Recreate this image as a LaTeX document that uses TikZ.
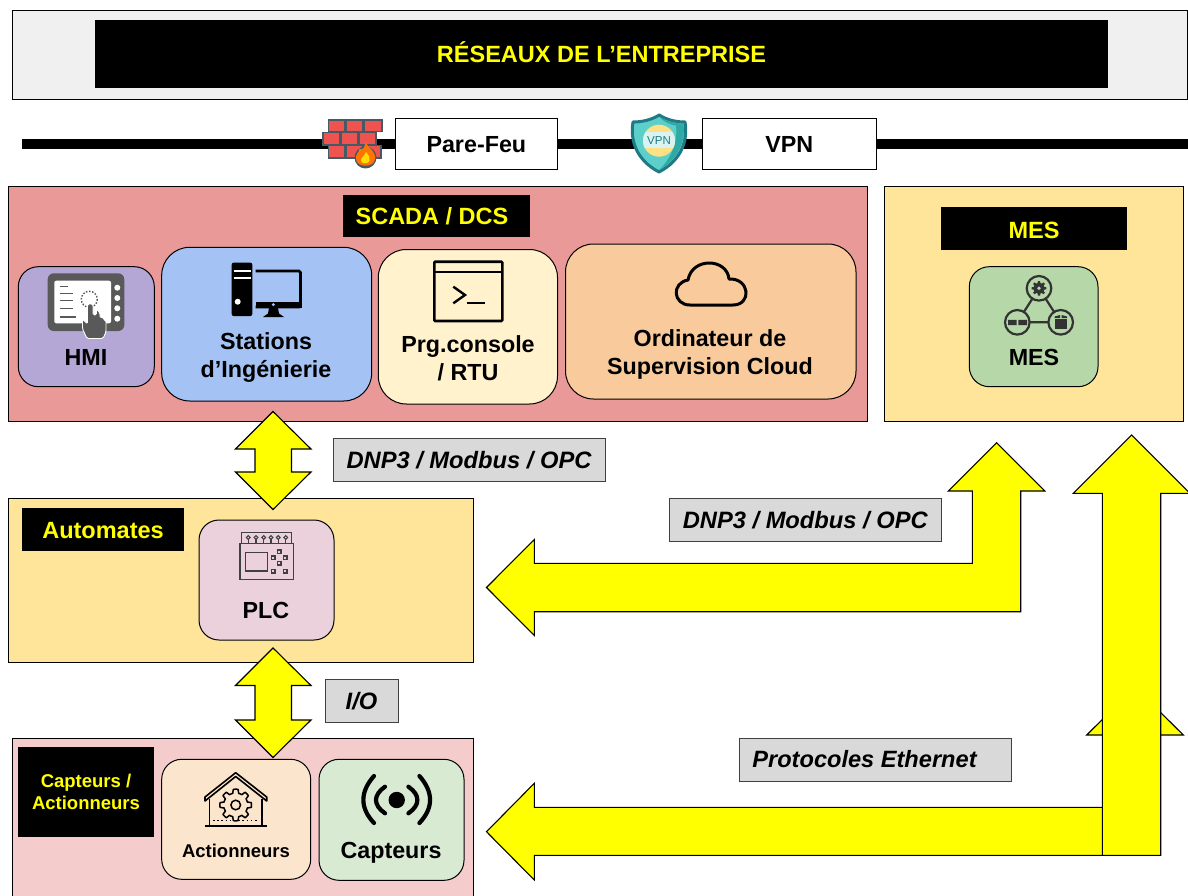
\documentclass[tikz,border=0pt]{standalone}
\usepackage{fontspec}
\setmainfont{Liberation Sans}
\definecolor{framegrey}{HTML}{F0F0F0}
\definecolor{scadared}{HTML}{EA9999}
\definecolor{mesyellow}{HTML}{FFE599}
\definecolor{sensepink}{HTML}{F4CCCC}
\definecolor{hmipurple}{HTML}{B4A7D6}
\definecolor{stblue}{HTML}{A4C2F4}
\definecolor{prgcream}{HTML}{FFF2CC}
\definecolor{cloudorange}{HTML}{F9CB9C}
\definecolor{mesgreen}{HTML}{B6D7A8}
\definecolor{plcpink}{HTML}{EAD1DC}
\definecolor{actpeach}{HTML}{FCE5CD}
\definecolor{capgreen}{HTML}{D9EAD3}
\definecolor{taggrey}{HTML}{D9D9D9}
\definecolor{arrowyellow}{HTML}{FFFF00}
\definecolor{icongrey}{HTML}{595959}
\definecolor{icondark}{HTML}{333333}
\definecolor{brickred}{HTML}{EF5350}
\definecolor{brickedge}{HTML}{455A64}
\definecolor{shieldedge}{HTML}{1F7A85}
\definecolor{shieldfill}{HTML}{5CCFCB}
\definecolor{shielddark}{HTML}{2FA9A6}
\definecolor{shieldband}{HTML}{FFE082}
\definecolor{shieldcore}{HTML}{D8F3F1}
\tikzset{
  boxbase/.style={draw=black,line width=1pt,inner sep=0pt,outer sep=0pt,align=center},
  zone/.style={boxbase,rectangle},
  tile/.style={boxbase,rounded corners=#1},
  tile/.default=20pt,
  blacklabel/.style={fill=black,inner sep=0pt,outer sep=0pt,align=center,text=arrowyellow,font=\bfseries\fontsize{23.5}{28}\selectfont},
  plainbox/.style={boxbase,fill=white,font=\bfseries\fontsize{23.3}{28}\selectfont},
  tag/.style={boxbase,draw=black!75,fill=taggrey,font=\bfseries\itshape\fontsize{23.7}{28}\selectfont},
  lbl/.style={inner sep=0pt,align=center,text=black,font=\bfseries\fontsize{23.3}{28}\selectfont},
  blockarrow/.style={draw=black,fill=arrowyellow,line width=1.1pt,line join=miter},
}
\newcommand{\bx}[7]{\node[#2,minimum width={(#5-#3)*1pt},minimum height={(#6-#4)*1pt}] (#1) at ({(#3+#5)/2},{(#4+#6)/2}) {#7};}
\newcommand{\capc}[2][9pt]{\raisebox{-#1}[0pt][0pt]{#2}}
\newcommand{\gearplot}[6]{\draw[#6] plot[domain=0:360,samples=129,variable=\t] ({#1+(#3+#4*(max(-.5,min(.5,2*cos(#5*\t)))+.5))*cos(\t)},{#2+(#3+#4*(max(-.5,min(.5,2*cos(#5*\t)))+.5))*sin(\t)}) -- cycle;}
\begin{document}
\begin{tikzpicture}[x=1pt,y=-1pt]
\clip (0,0) rectangle (1188,896);
\fill[white] (0,0) rectangle (1188,896);

% Enterprise band
\bx{top}{zone,fill=framegrey}{12.5}{11}{1187.5}{100}{}
\bx{title}{blacklabel}{95}{20}{1108}{88}{\capc{RÉSEAUX DE L’ENTREPRISE}}

% Backbone
\coordinate (lineL) at (22,144.3);
\coordinate (lineR) at (1188,144.3);
\draw[line width=10pt,black] (lineL) -- (lineR);
\bx{fw}{plainbox}{395.7}{118.3}{557}{169.3}{\capc{Pare-Feu}}
\bx{vpn}{plainbox}{702.5}{118.3}{876}{169.3}{\capc{VPN}}

% Firewall icon
\begin{scope}[draw=brickedge,fill=brickred,line width=1.6pt]
\foreach \a/\b/\c/\d in {328.3/120/345/131.7,346/120/362.3/131.7,364/120/381.7/131.7,
  322.7/132.5/340/145,341/132.5/357.3/145,359/132.5/375.7/145,
  328.3/145.7/345/158.3,346/145.7/362.3/158.3,364/145.7/381/158.3}
  \filldraw (\a,\b) rectangle (\c,\d);
\end{scope}
\fill[brickedge] (365.5,157.5) circle[radius=11];
\fill[orange!90!red] (365.5,142.5) .. controls (369,149) and (376,151) .. (375,159) .. controls (374,168) and (357,168) .. (356,159) .. controls (355.5,154) and (359,153) .. (359.5,148.5) .. controls (362,150) and (364,150) .. (365.5,142.5) -- cycle;
\fill[yellow!80!orange] (366,152) .. controls (369,156) and (371,158) .. (369.5,161) .. controls (368,164) and (362,164) .. (361,161) .. controls (360.5,158) and (364,157) .. (366,152) -- cycle;

% VPN shield
\filldraw[draw=shieldedge,fill=shieldfill,line width=3pt,line join=round] (659.3,115) .. controls (651,120) and (642,122) .. (633,122) .. controls (630,140) and (636,160) .. (659,172) .. controls (682,160) and (688,140) .. (685,122) .. controls (676,122) and (667,120) .. (659.3,115) -- cycle;
\fill[shielddark] (659.3,116.8) .. controls (667,121.5) and (675,123.5) .. (683.4,123.5) .. controls (685.5,140) and (680,158) .. (659,170.2) .. controls (672,158) and (678,140) .. (676,125.5) .. controls (670,125) and (664,122) .. (659.3,116.8) -- cycle;
\fill[shieldband] (659,140.7) circle[radius=16];
\begin{scope}
\clip (659,140.7) circle[radius=16];
\fill[shieldcore] (640,132.5) rectangle (678,148.5);
\end{scope}
\node[inner sep=0pt,text=shieldedge,font=\fontsize{11.5}{12}\selectfont] (vpnmark) at (659,140.7) {VPN};

% SCADA zone
\bx{scada}{zone,fill=scadared}{8.5}{187}{867}{421}{}
\bx{scadat}{blacklabel}{343}{195}{530}{237}{}
\node[blacklabel,fill=none] (scadal) at (432,216) {\capc{SCADA / DCS}};
\bx{hmi}{tile=20pt,fill=hmipurple}{18.3}{266.7}{154.3}{386.7}{}
\bx{station}{tile=28pt,fill=stblue}{161.7}{247.3}{371.7}{401}{}
\bx{prg}{tile=28pt,fill=prgcream}{378.3}{249.5}{557.5}{404}{}
\bx{ordi}{tile=28pt,fill=cloudorange}{565.5}{244}{856}{399}{}
\node[lbl] (hmil) at (86,357) {HMI};
\node[lbl] (stationl) at (266,358) {Stations\\d’Ingénierie};
\node[lbl] (prgl) at (468,358) {Prg.console\\/ RTU};
\node[lbl] (ordil) at (710,354) {Ordinateur de\\Supervision Cloud};

% HMI icon
\fill[icongrey,rounded corners=6pt] (47.7,273.3) rectangle (124.3,331);
\fill[white,rounded corners=2pt] (54.3,280.7) rectangle (111,323.3);
\foreach \yy in {287.7,298,308.3,318.7} \fill[white] (117.3,\yy) circle[radius=3];
\draw[icongrey,line width=1pt] (59.5,286.7) -- (68,286.7) (59.5,293.3) -- (73,293.3) (59.5,300) -- (73,300);
\draw[icongrey,line width=1.6pt] (59.5,308.3) -- (73,308.3) (59.5,316.7) -- (76,316.7);
\draw[icongrey,line width=1.4pt,dash pattern=on 1.5pt off 1.6pt] (89.3,299.3) circle[radius=8];
\filldraw[draw=white,fill=icongrey,line width=.9pt,rounded corners=1.5pt] (87.5,304) -- (93,304) -- (93,315) -- (96.5,315) -- (96.5,309) -- (100,313) -- (100,318) -- (103.5,317) -- (103.5,320) -- (106,320) -- (106,332) -- (103,338.5) -- (87,338.5) -- (82.5,329) -- (82.5,319) -- (87.5,324) -- cycle;

% Station icon
\fill[black,rounded corners=2pt] (231.7,262.7) rectangle (252.3,316);
\draw[white,line width=2pt] (233.5,271) -- (250.5,271) (233.5,278.3) -- (250.5,278.3);
\fill[white] (237.7,301.7) circle[radius=3];
\draw[black,line width=2.6pt,rounded corners=1.5pt] (255.7,271) -- (300.5,271) -- (300.5,307) -- (255.7,307);
\fill[black] (255.7,302) rectangle (301.7,308.3);
\fill[stblue] (273.3,304.6) circle[radius=1.6];
\fill[black] (269,308) -- (278,308) -- (279,313.5) -- (284,317) -- (263,317) -- (268,313.5) -- cycle;

% Console icon
\draw[black,line width=2.6pt,rounded corners=1pt] (434.3,261.7) rectangle (502.3,321);
\draw[black,line width=2.2pt] (434.3,271.7) -- (502.3,271.7);
\draw[black,line width=2.4pt] (453.3,286.7) -- (465,295) -- (453.3,303.3);
\draw[black,line width=2.2pt] (466.7,302.7) -- (485,302.7);

% Cloud icon
\draw[black,line width=3pt,line join=round] (690,305) .. controls (673,305) and (671,283) .. (688,280) .. controls (692,257) and (727,258) .. (729,279) .. controls (750,278) and (752,305) .. (733,305) -- cycle;

% MES zone
\bx{meszone}{zone,fill=mesyellow}{884}{187}{1183}{421}{}
\bx{mest}{blacklabel}{941}{207}{1127}{250}{\capc[10pt]{MES}}
\bx{mes}{tile=20pt,fill=mesgreen}{969.3}{266.7}{1098}{386.7}{}
\node[lbl] (mesl) at (1034,357) {MES};
\begin{scope}[draw=icondark,line width=2.2pt]
\coordinate (mesA) at (1039,288.3);
\coordinate (mesB) at (1017.3,322.3);
\coordinate (mesC) at (1060.7,322.3);
\draw (mesA) -- (mesB) -- (mesC) -- cycle;
\filldraw[fill=mesgreen] (mesA) circle[radius=12.3];
\filldraw[fill=mesgreen] (mesB) circle[radius=12.3];
\filldraw[fill=mesgreen] (mesC) circle[radius=12.3];
\end{scope}
\gearplot{1039}{288.3}{5.4}{1.9}{8}{fill=icondark,draw=none}
\fill[mesgreen] (mesA) circle[radius=1.9];
\fill[icondark] (1008,319.8) rectangle (1016.7,325) (1018.3,319.8) rectangle (1027,325);
\fill[icondark] (1054.5,319) rectangle (1067,329);
\fill[icondark] (1054.5,316.5) -- (1060,315) -- (1060,318) -- (1054.5,318) -- cycle (1061.5,315) -- (1067,316.5) -- (1067,318) -- (1061.5,318) -- cycle;

% Automates zone
\bx{auto}{zone,fill=mesyellow}{8.5}{498}{473.5}{662.5}{}
\bx{autot}{blacklabel}{22}{508}{184}{551}{\capc{Automates}}
\bx{plc}{tile=20pt,fill=plcpink}{199}{520}{334}{640}{}
\node[lbl] (plcl) at (266,610) {PLC};
\begin{scope}[draw=black!75,line width=1.4pt]
\draw (241.7,543.3) -- (241.7,532.3) -- (291.7,532.3) -- (291.7,543.3);
\draw (240,543.3) rectangle (293.3,579.3);
\draw (245.7,552.3) rectangle (267.3,571);
\foreach \xx in {248.3,256,263.7,271,278.3,285.7} {
  \draw[line width=1.1pt] (\xx,537.5) circle[radius=1.9];
  \draw[line width=1.1pt] (\xx,539.4) -- (\xx,542.5);
}
\foreach \xx/\yy in {279.3/551.7,273.3/557.7,285/557.7,279.3/563.3,273.3/571,285/571}
  \draw (\xx-1.8,\yy-1.8) rectangle (\xx+1.8,\yy+1.8);
\end{scope}

% Field zone
\bx{field}{zone,fill=sensepink}{12.5}{738}{473}{910}{}
\bx{fieldt}{blacklabel,font=\bfseries\fontsize{18.5}{22.7}\selectfont}{18}{747.3}{154}{836.7}{Capteurs /\\Actionneurs}
\bx{act}{tile=20pt,fill=actpeach}{161.7}{759.3}{310.7}{879.3}{}
\bx{cap}{tile=20pt,fill=capgreen}{319}{759.3}{464}{880.3}{}
\node[lbl,font=\bfseries\fontsize{18.5}{22}\selectfont] (actl) at (236,851) {Actionneurs};
\node[lbl] (capl) at (391,853) {Capteurs};

% Actuator icon
\draw[black,line width=1.6pt,line join=round] (205,801) -- (235.7,776.5) -- (266.7,801) -- (266.7,797) -- (235.7,772.7) -- (205,797) -- cycle;
\draw[black,line width=1.6pt] (209.3,799) -- (209.3,826) (261.7,799) -- (261.7,826);
\draw[black,line width=1.8pt] (205,826.3) -- (266.7,826.3);
\draw[black,line width=1.5pt,dash pattern=on 1.6pt off 2.6pt] (213,820.7) -- (259,820.7);
\gearplot{235.7}{805}{12}{3.8}{8}{fill=actpeach,draw=black,line width=1.5pt,line join=round}
\draw[black,line width=1.5pt] (235.7,805) circle[radius=4.8];

% Sensor icon
\fill[black] (396.7,800) circle[radius=8.2];
\begin{scope}[black,line width=4.2pt,line cap=round]
\draw (374,776) .. controls (359.8,792) and (359.8,808) .. (374,823);
\draw (385,786.7) .. controls (373,795) and (373,805) .. (385,813.3);
\draw (419.4,776) .. controls (433.6,792) and (433.6,808) .. (419.4,823);
\draw (408.4,786.7) .. controls (420.4,795) and (420.4,805) .. (408.4,813.3);
\end{scope}

% Protocol tags
\bx{tagA}{tag}{333}{438}{605}{481}{\capc{DNP3 / Modbus / OPC}}
\bx{tagB}{tag}{669.5}{498}{941}{541}{\capc{DNP3 / Modbus / OPC}}
\bx{tagC}{tag}{325}{679}{398}{722}{\capc{I/O}}
\bx{tagD}{tag}{739}{738}{1011}{781}{}
\node[lbl,font=\bfseries\itshape\fontsize{23.6}{28}\selectfont] (tagDl) at (864.5,759.5) {Protocoles Ethernet};

% Block arrows
\draw[blockarrow] (273,411.5) -- (311,449) -- (291.5,449) -- (291.5,472) -- (311,472) -- (273,509.5) -- (235.5,472) -- (255,472) -- (255,449) -- (235.5,449) -- cycle;
\draw[blockarrow] (273,648) -- (311,685.5) -- (291.5,685.5) -- (291.5,720) -- (311,720) -- (273,757.5) -- (235.5,720) -- (255,720) -- (255,685.5) -- (235.5,685.5) -- cycle;
\draw[blockarrow] (486.5,587.5) -- (534.3,539.5) -- (534.3,563.3) -- (972.4,563.3) -- (972.4,491) -- (948.3,491) -- (996.6,442.7) -- (1044.8,491) -- (1020.7,491) -- (1020.7,611.7) -- (534.3,611.7) -- (534.3,635.5) -- cycle;
\draw[blockarrow] (486.5,831.7) -- (534.3,783.3) -- (534.3,807.3) -- (1111,807.3) -- (1111,735) -- (1086.7,735) -- (1135,687) -- (1183.3,735) -- (1159,735) -- (1159,855.3) -- (534.3,855.3) -- (534.3,880) -- cycle;
\draw[blockarrow] (1131.7,435) -- (1190,493.3) -- (1160.7,493.3) -- (1160.7,855.3) -- (1102.3,855.3) -- (1102.3,493.3) -- (1073.3,493.3) -- cycle;
\end{tikzpicture}
\end{document}
